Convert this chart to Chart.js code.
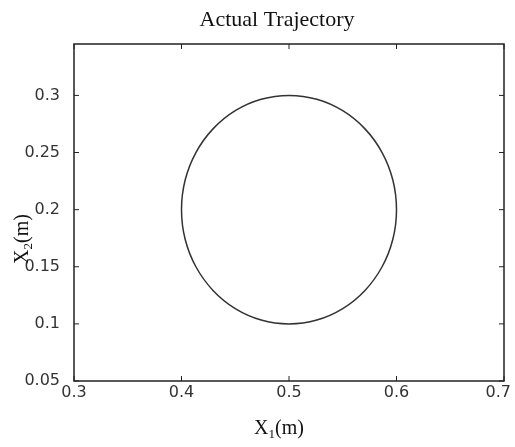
<!DOCTYPE html>
<html>
<head>
<meta charset="utf-8">
<script src="https://cdn.jsdelivr.net/npm/chart.js@4/dist/chart.umd.min.js"></script>
<style>
  html, body { margin: 0; padding: 0; background: #fff; }
  #wrap { width: 515px; height: 447px; position: relative; }
</style>
</head>
<body>
<div id="wrap"><canvas id="traj"></canvas></div>
<script>
// ---- Data ----
// trajectory samples, every 15 degrees, one step of overlap at each end so the loop closes smoothly
const x1Values = [0.5966, 0.6, 0.5966, 0.5866, 0.5707, 0.55, 0.5259, 0.5, 0.4741, 0.45, 0.4293, 0.4134, 0.4034,
                  0.4, 0.4034, 0.4134, 0.4293, 0.45, 0.4741, 0.5, 0.5259, 0.55, 0.5707, 0.5866, 0.5966, 0.6, 0.5966];
const x2Values = [0.1741, 0.2, 0.2259, 0.25, 0.2707, 0.2866, 0.2966, 0.3, 0.2966, 0.2866, 0.2707, 0.25, 0.2259,
                  0.2, 0.1741, 0.15, 0.1293, 0.1134, 0.1034, 0.1, 0.1034, 0.1134, 0.1293, 0.15, 0.1741, 0.2, 0.2259];
const xTicks = [0.3, 0.4, 0.5, 0.6, 0.7];
const yTicks = [0.05, 0.1, 0.15, 0.2, 0.25, 0.3];

const points = x1Values.map((x, i) => ({ x: x, y: x2Values[i] }));
const tickFont = '16px "DejaVu Sans", sans-serif';
const lastSeg = points.length - 2;

// ---- Frame, inward ticks, x labels and titles ----
const framePlugin = {
  id: 'frame',
  afterDraw(chart) {
    const { ctx, chartArea: a, scales } = chart;
    const L = 5;
    ctx.save();
    ctx.strokeStyle = '#222';
    ctx.lineWidth = 1.5;
    ctx.strokeRect(a.left, a.top, a.right - a.left, a.bottom - a.top);
    ctx.lineWidth = 1;
    ctx.beginPath();
    xTicks.forEach(v => {
      const px = scales.x.getPixelForValue(v);
      ctx.moveTo(px, a.bottom); ctx.lineTo(px, a.bottom - L);
      ctx.moveTo(px, a.top); ctx.lineTo(px, a.top + L);
    });
    yTicks.forEach(v => {
      const py = scales.y.getPixelForValue(v);
      ctx.moveTo(a.left, py); ctx.lineTo(a.left + L, py);
      ctx.moveTo(a.right, py); ctx.lineTo(a.right - L, py);
    });
    ctx.stroke();

    // x tick labels, kept inside the canvas at the right end
    ctx.fillStyle = '#333';
    ctx.font = tickFont;
    ctx.textAlign = 'center';
    ctx.textBaseline = 'top';
    xTicks.forEach(v => {
      const label = String(v);
      const w = ctx.measureText(label).width;
      let px = scales.x.getPixelForValue(v);
      px = Math.min(px, chart.width - 4 - w / 2);
      ctx.fillText(label, px, a.bottom + 4);
    });

    ctx.fillStyle = '#111';
    ctx.textBaseline = 'alphabetic';
    ctx.font = '22px "Liberation Serif", "Times New Roman", serif';
    ctx.fillText('Actual Trajectory', 277, 26);

    // subscripted axis names
    function subLabel(x, y, main, sub, rest) {
      ctx.font = '20px "Liberation Serif", serif';
      const w1 = ctx.measureText(main).width;
      const w3 = ctx.measureText(rest).width;
      ctx.font = '13px "Liberation Serif", serif';
      const w2 = ctx.measureText(sub).width;
      let sx = x - (w1 + w2 + w3) / 2;
      ctx.textAlign = 'left';
      ctx.font = '20px "Liberation Serif", serif';
      ctx.fillText(main, sx, y);
      ctx.font = '13px "Liberation Serif", serif';
      ctx.fillText(sub, sx + w1, y + 4);
      ctx.font = '20px "Liberation Serif", serif';
      ctx.fillText(rest, sx + w1 + w2, y);
    }
    subLabel(279, 434, 'X', '1', '(m)');
    ctx.translate(28, 239);
    ctx.rotate(-Math.PI / 2);
    subLabel(0, 0, 'X', '2', '(m)');
    ctx.restore();
  }
};

// ---- Chart ----
const ctx = document.getElementById('traj').getContext('2d');
const trajChart = new Chart(ctx, {
  type: 'scatter',
  data: {
    datasets: [{
      data: points,
      showLine: true,
      borderColor: '#333',
      borderWidth: 1.5,
      pointRadius: 0,
      tension: 0.3,
      fill: false,
      // overlap segments only shape the curve, they are not stroked
      segment: {
        borderColor: c => (c.p0DataIndex === 0 || c.p0DataIndex === lastSeg) ? 'rgba(0,0,0,0)' : undefined
      }
    }]
  },
  options: {
    responsive: true,
    maintainAspectRatio: false,
    animation: false,
    layout: { padding: { top: 44, right: 11, left: 0, bottom: 0 } },
    plugins: { legend: { display: false }, tooltip: { enabled: false }, title: { display: false } },
    scales: {
      x: {
        type: 'linear', min: 0.3, max: 0.7,
        afterBuildTicks: s => { s.ticks = xTicks.map(v => ({ value: v })); },
        afterFit: s => { s.height = 66; s.paddingLeft = 0; s.paddingRight = 0; },
        grid: { display: false },
        border: { display: false },
        ticks: { display: false }
      },
      y: {
        type: 'linear', min: 0.05, max: 0.345,
        afterBuildTicks: s => { s.ticks = yTicks.map(v => ({ value: v })); },
        afterFit: s => { s.width = 74; s.paddingTop = 0; s.paddingBottom = 0; },
        grid: { display: false },
        border: { display: false },
        ticks: { padding: 6, color: '#333', font: { family: '"DejaVu Sans", sans-serif', size: 16 },
                 callback: v => String(v) }
      }
    }
  },
  plugins: [framePlugin]
});
</script>
</body>
</html>
